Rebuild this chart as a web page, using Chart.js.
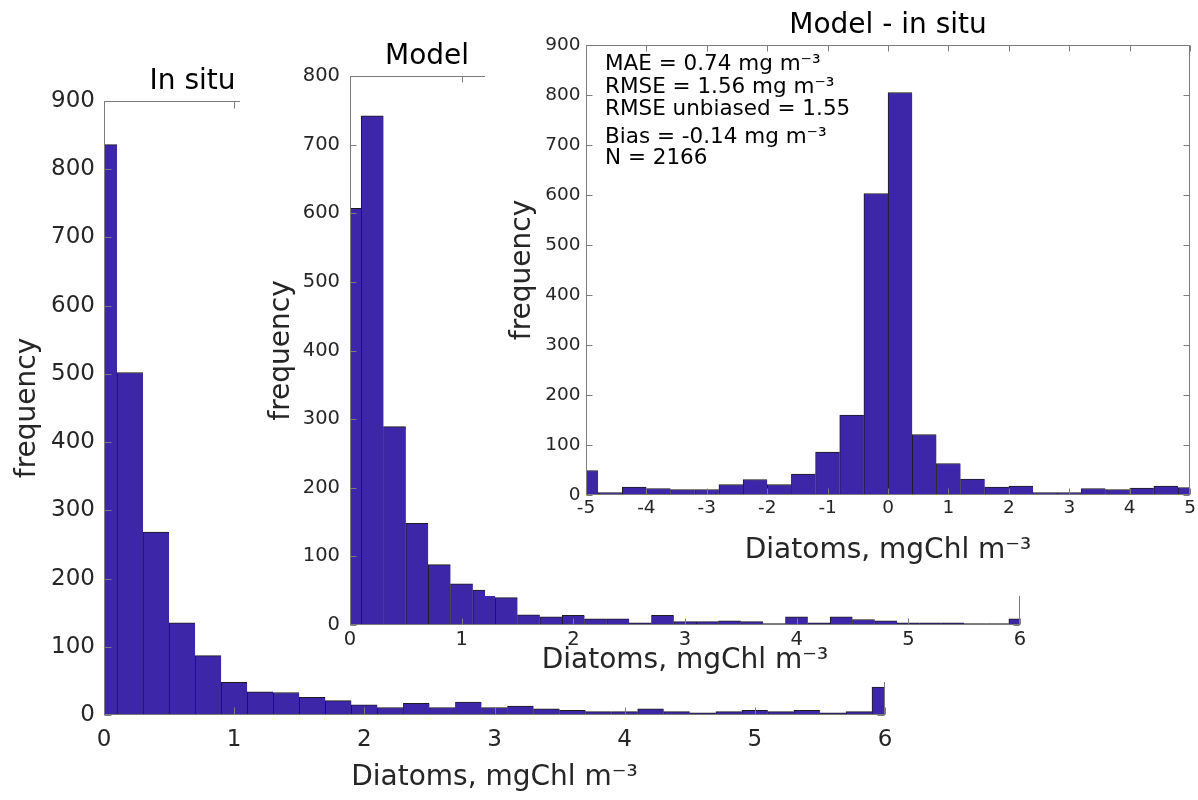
<!DOCTYPE html>
<html>
<head>
<meta charset="utf-8">
<script src="https://cdn.jsdelivr.net/npm/chart.js@4.4.1/dist/chart.umd.min.js"></script>
<style>
  body { margin: 0; background: #fff; }
  #page { position: relative; width: 1198px; height: 800px; overflow: hidden; }
  .panel { position: absolute; background: #fff; }
</style>
</head>
<body>
<div id="page">
  <div class="panel" style="left:0;top:0;width:1198px;height:800px"><canvas id="insitu" width="1198" height="800"></canvas></div>
  <div class="panel" style="left:240px;top:30px;width:820px;height:652px"><canvas id="model" width="820" height="652"></canvas></div>
  <div class="panel" style="left:485px;top:0;width:713px;height:596px"><canvas id="diff" width="713" height="596"></canvas></div>
</div>
<script>
// bin centres (mgChl m-3), shared by the in situ and model histograms
const concBins = [0, 0.2, 0.4, 0.6, 0.8, 1, 1.2, 1.4, 1.6, 1.8, 2, 2.2, 2.4, 2.6, 2.8, 3,
  3.2, 3.4, 3.6, 3.8, 4, 4.2, 4.4, 4.6, 4.8, 5, 5.2, 5.4, 5.6, 5.8, 6];
const inSituCounts = [836, 502, 268, 135, 87, 48, 34, 33, 26, 21, 15, 11, 17, 11, 19, 11,
  13, 9, 7, 5, 5, 9, 5, 3, 5, 7, 5, 7, 3, 5, 41];
const modelCounts = [607, 742, 289, 148, 88, 60, 51, 40, 15, 12, 14, 9, 9, 3, 14, 5,
  5, 6, 5, 2, 12, 3, 12, 8, 6, 3, 3, 3, 2, 2, 9];

// model minus in situ
const diffBins = [-5, -4.6, -4.2, -3.8, -3.4, -3, -2.6, -2.2, -1.8, -1.4, -1, -0.6, -0.2,
  0.2, 0.6, 1, 1.4, 1.8, 2.2, 2.6, 3, 3.4, 3.8, 4.2, 4.6, 5];
const diffCounts = [49, 5, 16, 13, 11, 11, 21, 31, 21, 42, 86, 160, 603, 805, 121, 63, 32,
  16, 18, 5, 5, 13, 11, 14, 18, 15];

const diffStats = [
  "MAE = 0.74 mg m⁻³",
  "RMSE = 1.56 mg m⁻³",
  "RMSE unbiased = 1.55",
  "Bias = -0.14 mg m⁻³",
  "N = 2166",
];

const X_LABEL = "Diatoms, mgChl m⁻³";
const Y_LABEL = "frequency";

const FONT = "DejaVu Sans";
const BAR_FILL = "#3e26a8";
const BAR_EDGE = "#1c1c1c";
const AXIS_COLOR = "#7c7c7c";
const TEXT_COLOR = "#262626";

// box, inward ticks on all four sides, title and text notes
const matlabAxes = {
  id: "matlabAxes",
  afterDatasetsDraw(chart, args, opts) {
    const { ctx, chartArea: a, scales: { x, y } } = chart;
    const l = Math.round(a.left) + 0.5;
    const r = Math.round(a.right) - 0.5;
    const t = Math.round(a.top) + 0.5;
    const b = Math.round(a.bottom) - 0.5;
    const len = opts.tickLength;

    ctx.save();
    ctx.strokeStyle = AXIS_COLOR;
    ctx.lineWidth = 1;
    ctx.beginPath();
    x.ticks.forEach((tick) => {
      const px = Math.round(x.getPixelForValue(tick.value)) + 0.5;
      ctx.moveTo(px, b);
      ctx.lineTo(px, b - len);
      ctx.moveTo(px, t);
      ctx.lineTo(px, t + len);
    });
    y.ticks.forEach((tick) => {
      const py = Math.round(y.getPixelForValue(tick.value)) + 0.5;
      ctx.moveTo(l, py);
      ctx.lineTo(l + len, py);
      ctx.moveTo(r, py);
      ctx.lineTo(r - len, py);
    });
    ctx.rect(l, t, r - l, b - t);
    ctx.stroke();

    ctx.fillStyle = "#000";
    ctx.font = `28px "${FONT}"`;
    ctx.textAlign = "center";
    ctx.textBaseline = "alphabetic";
    ctx.fillText(opts.title, x.getPixelForValue(opts.titleAt), a.top - 12);

    if (opts.notes) {
      ctx.font = `21.5px "${FONT}"`;
      ctx.textAlign = "left";
      opts.notes.forEach((line, i) => {
        ctx.fillText(line, a.left + 19, a.top + opts.noteOffsets[i]);
      });
    }
    ctx.restore();
  },
};

const buildHistogram = (canvasId, cfg) =>
  new Chart(document.getElementById(canvasId), {
    type: "bar",
    data: {
      datasets: [
        {
          data: cfg.bins.map((bin, i) => ({ x: bin, y: cfg.counts[i] })),
          backgroundColor: BAR_FILL,
          borderColor: BAR_EDGE,
          borderWidth: { top: 1, left: 1, right: 0, bottom: 0 },
          borderSkipped: false,
          barPercentage: 1,
          categoryPercentage: 1,
          clip: 0,
        },
      ],
    },
    options: {
      responsive: false,
      animation: false,
      layout: { padding: cfg.padding },
      plugins: {
        legend: { display: false },
        tooltip: { enabled: false },
        matlabAxes: {
          title: cfg.title,
          titleAt: cfg.titleAt,
          tickLength: cfg.tickLength,
          notes: cfg.notes,
          noteOffsets: cfg.noteOffsets,
        },
      },
      scales: {
        x: {
          type: "linear",
          min: cfg.xMin,
          max: cfg.xMax,
          offset: false,
          grid: { display: false, drawTicks: false, offset: false },
          border: { display: false },
          ticks: {
            stepSize: 1,
            autoSkip: false,
            maxRotation: 0,
            padding: cfg.xTickPad,
            color: TEXT_COLOR,
            font: { family: FONT, size: cfg.tickSize },
          },
          title: {
            display: true,
            text: X_LABEL,
            color: TEXT_COLOR,
            font: { family: FONT, size: 28 },
            padding: { top: 0, bottom: cfg.xTitlePad },
          },
          afterFit: (scale) => {
            scale.height = cfg.xHeight;
          },
        },
        y: {
          min: 0,
          max: cfg.yMax,
          grid: { display: false, drawTicks: false },
          border: { display: false },
          ticks: {
            stepSize: 100,
            padding: cfg.yTickPad,
            color: TEXT_COLOR,
            font: { family: FONT, size: cfg.tickSize },
          },
          title: {
            display: true,
            text: Y_LABEL,
            color: TEXT_COLOR,
            font: { family: FONT, size: 28 },
            padding: { top: cfg.yTitlePad, bottom: 0 },
          },
          afterFit: (scale) => {
            scale.width = cfg.yWidth;
          },
        },
      },
    },
    plugins: [matlabAxes],
  });

buildHistogram("insitu", {
  bins: concBins,
  counts: inSituCounts,
  title: "In situ",
  titleAt: 0.68,
  xMin: 0,
  xMax: 6,
  yMax: 900,
  tickSize: 23,
  tickLength: 7,
  padding: { left: 0, top: 101, right: 313, bottom: 0 },
  yWidth: 104,
  xHeight: 85,
  xTickPad: 11,
  yTickPad: 9,
  xTitlePad: 5,
  yTitlePad: 11,
});

buildHistogram("model", {
  bins: concBins,
  counts: modelCounts,
  title: "Model",
  titleAt: 0.69,
  xMin: 0,
  xMax: 6,
  yMax: 800,
  tickSize: 19.5,
  tickLength: 6,
  padding: { left: 0, top: 46, right: 40, bottom: 0 },
  yWidth: 110,
  xHeight: 57,
  xTickPad: 3.5,
  yTickPad: 10,
  xTitlePad: 4,
  yTitlePad: 25,
});

buildHistogram("diff", {
  bins: diffBins,
  counts: diffCounts,
  title: "Model - in situ",
  titleAt: 0,
  xMin: -5,
  xMax: 5,
  yMax: 900,
  tickSize: 18.5,
  tickLength: 6,
  padding: { left: 0, top: 45, right: 6, bottom: 0 },
  yWidth: 101,
  xHeight: 101,
  xTickPad: 2,
  yTickPad: 5.5,
  xTitlePad: 28,
  yTitlePad: 21,
  notes: diffStats,
  noteOffsets: [25, 48, 70, 98, 119],
});
</script>
</body>
</html>
